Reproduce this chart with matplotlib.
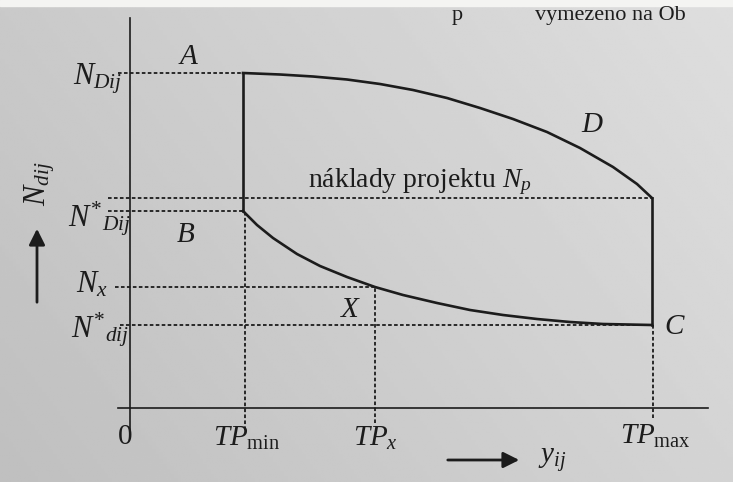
import matplotlib.pyplot as plt
import numpy as np

plt.rcParams['font.family'] = ['Liberation Serif', 'DejaVu Serif']
plt.rcParams['mathtext.fontset'] = 'custom'
plt.rcParams['mathtext.rm'] = 'Liberation Serif'
plt.rcParams['mathtext.it'] = 'Liberation Serif:italic'
plt.rcParams['mathtext.bf'] = 'Liberation Serif:bold'

# key levels on both axes
tp_min, tp_x, tp_max = 113, 245, 522
n_D, n_p, n_Ds, n_x, n_ds = 335, 210, 197, 121, 83

# upper cost curve A -> D
upper_x = [113, 150, 183, 217, 250, 283, 317, 350, 383, 417, 450, 483, 507, 522]
upper_y = [335, 333.5, 331.5, 328.5, 324, 318, 310, 300, 289, 276, 260, 241, 224, 210]

# lower cost curve B -> X -> C
lower_x = [113, 127, 143, 167, 190, 217, 245, 273, 307, 340, 373, 407, 440, 473, 522]
lower_y = [197, 183, 170, 154, 142, 131, 121, 113, 105, 98, 93, 89, 86, 84, 83]

ink = '#1c1c1c'
dot = (0, (2.0, 1.3))

fig = plt.figure(figsize=(7.33, 4.82), dpi=100)
ax = fig.add_axes([0, 0, 1, 1])
ax.set_xlim(-130, 603)
ax.set_ylim(-74, 408)
ax.axis('off')

# paper background, slightly lighter towards the upper right
gx = np.linspace(0, 1, 200)
gy = np.linspace(0, 1, 200)
GX, GY = np.meshgrid(gx, gy)
shade = 0.75 + 0.08 * GX + 0.04 * GY
ax.imshow(shade, extent=(-130, 603, -74, 408), origin='lower', cmap='gray',
          vmin=0, vmax=1, aspect='auto', zorder=0)
ax.axhspan(402, 408, color='#f4f4f2', zorder=0.5)

# line of text above the figure
ax.text(322, 388, 'p', fontsize=16, color=ink, va='baseline')
ax.text(405, 388, 'vymezeno na Ob', fontsize=16, color=ink, va='baseline')

# axes
ax.plot([0, 0], [-24, 390], color=ink, lw=1.2)
ax.plot([-12, 578], [0, 0], color=ink, lw=1.2)

# dotted guides
gl = dict(color=ink, lw=1.3, ls=dot)
ax.plot([-12, tp_min], [n_D, n_D], **gl)
ax.plot([-22, tp_max], [n_p, n_p], **gl)
ax.plot([-22, tp_min], [n_Ds, n_Ds], **gl)
ax.plot([-15, tp_x], [n_x, n_x], **gl)
ax.plot([-10, tp_max], [n_ds, n_ds], **gl)
ax.plot([tp_min + 2, tp_min + 2], [-22, n_Ds], **gl)
ax.plot([tp_x, tp_x], [-15, n_x], **gl)
ax.plot([tp_max + 1, tp_max + 1], [-10, n_ds], **gl)

# solid outline
ax.plot([tp_min, tp_min], [n_Ds, n_D], color=ink, lw=1.9)
ax.plot(upper_x, upper_y, color=ink, lw=1.9, solid_joinstyle='round')
ax.plot(lower_x, lower_y, color=ink, lw=1.9, solid_joinstyle='round')
ax.plot([tp_max, tp_max], [n_ds, n_p], color=ink, lw=1.9)

# point labels
lab = dict(fontsize=21, color=ink, ha='center', va='center', style='italic')
ax.text(58, 351, 'A', **lab)
ax.text(462, 283, 'D', **lab)
ax.text(56, 173, 'B', **lab)
ax.text(220, 98, 'X', **lab)
ax.text(544, 81, 'C', **lab)

# y-side labels
yl = dict(fontsize=22, color=ink, ha='center', va='center')
ax.text(-32, 329, r'$N_{Dij}$', **yl)
ax.text(-30, 189, r'$N^{*}{}_{Dij}$', **yl)
ax.text(-38, 123, r'$N_{x}$', **yl)
ax.text(-30, 78, r'$N^{*}{}_{dij}$', **yl)
ax.text(-90, 224, r'$N_{dij}$', rotation=90, **yl)
ax.annotate('', xy=(-93, 182), xytext=(-93, 103),
            arrowprops=dict(arrowstyle='-|>', color=ink, lw=2, mutation_scale=24))

ax.text(290, 226, r'náklady projektu $N_p$', fontsize=20, color=ink,
        ha='center', va='center')

# x-side labels
xl = dict(fontsize=21, color=ink, ha='center', va='center')
ax.text(-5, -29, '0', **xl)
ax.text(117, -30, r'$TP_{\mathrm{min}}$', **xl)
ax.text(245, -30, r'$TP_{x}$', **xl)
ax.text(525, -28, r'$TP_{\mathrm{max}}$', **xl)
ax.text(422, -52, r'$y_{ij}$', **xl)
ax.annotate('', xy=(392, -52), xytext=(315, -52),
            arrowprops=dict(arrowstyle='-|>', color=ink, lw=2, mutation_scale=24))

fig.savefig('out.png', dpi=100)
